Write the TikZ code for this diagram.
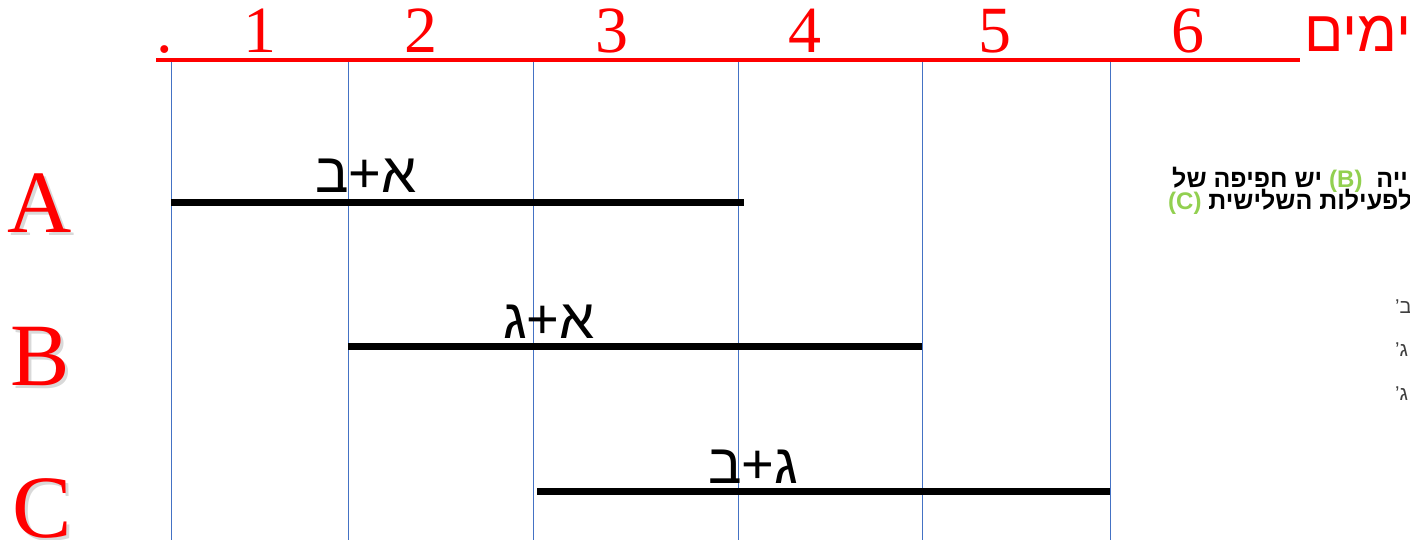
\documentclass[tikz,border=0pt]{standalone}
\usepackage{fontspec}
\setmainfont{Liberation Serif}
\newfontfamily\heb[Script=Hebrew]{Liberation Sans}
\TeXXeTstate=1
\newcommand{\hw}[1]{\beginR #1\endR}
\definecolor{gridblue}{HTML}{4472C4}
\definecolor{axisred}{HTML}{FF0000}
\definecolor{notegreen}{HTML}{92D050}
\definecolor{notegray}{HTML}{404040}
\begin{document}
\begin{tikzpicture}[x=1pt,y=-1pt,
  daynum/.style={text=axisred,font=\fontsize{66}{66}\selectfont,anchor=base,inner sep=0pt},
  daysword/.style={text=axisred,font=\heb\fontsize{58}{58}\selectfont,anchor=base west,inner sep=0pt},
  rowletter/.style={text=axisred,font=\fontsize{89}{89}\selectfont,anchor=base,inner sep=0pt},
  rowshadow/.style={text=black,opacity=0.15,font=\fontsize{89}{89}\selectfont,anchor=base,inner sep=0pt},
  pairlabel/.style={text=black,font=\heb\fontsize{56}{56}\selectfont,anchor=base,inner sep=0pt},
  gridline/.style={draw=gridblue,line width=1pt},
  axisline/.style={draw=axisred,line width=4pt},
  taskbar/.style={draw=black,line width=7pt},
  notetext/.style={text=black,font=\heb\bfseries\fontsize{25}{25}\selectfont,anchor=base west,inner sep=0pt},
  sidemark/.style={text=notegray,font=\heb\fontsize{20}{20}\selectfont,anchor=base west,inner sep=0pt}
]
\newcommand{\gl}[1]{{\color{notegreen}\fontsize{24}{24}\selectfont\bfseries #1}}
\useasboundingbox (0,0) rectangle (1410,540);
\fill[white] (0,0) rectangle (1410,540);

% vertical grid lines
\foreach \i/\x in {0/171,1/348,2/533,3/738,4/922,5/1110}{
  \coordinate (gt\i) at (\x,60);
  \coordinate (gb\i) at (\x,540);
  \draw[gridline] (gt\i) -- (gb\i);
}

% red axis
\coordinate (axL) at (156,60);
\coordinate (axR) at (1300,60);
\draw[axisline] (axL) -- (axR);

% day numbers
\node[daynum] (d0) at (165,53) {.};
\node[daynum] (d1) at (260,53) {1};
\node[daynum] (d2) at (421,53) {2};
\node[daynum] (d3) at (612,53) {3};
\node[daynum] (d4) at (805,53) {4};
\node[daynum] (d5) at (995,53) {5};
\node[daynum] (d6) at (1188,53) {6};
\node[daysword] (days) at (1304,52) {\hw{ימים}};

% row letters with soft shadow
\node[rowshadow] (sA) at (43,235) {A};
\node[rowletter] (rA) at (40,232) {A};
\node[rowshadow] (sB) at (43,388) {B};
\node[rowletter] (rB) at (40,385) {B};
\node[rowshadow] (sC) at (45,540) {C};
\node[rowletter] (rC) at (42,537) {C};

% task bars
\coordinate (aS) at (171,203);
\coordinate (aE) at (744,203);
\coordinate (bS) at (348,346);
\coordinate (bE) at (922,346);
\coordinate (cS) at (537,491);
\coordinate (cE) at (1110,491);
\draw[taskbar] (aS) -- (aE);
\draw[taskbar] (bS) -- (bE);
\draw[taskbar] (cS) -- (cE);

% bar labels
\node[pairlabel] (lA) at (366,193) {\hw{א+ב}};
\node[pairlabel] (lB) at (549,338) {\hw{א+ג}};
\node[pairlabel] (lC) at (753,483) {\hw{ג+ב}};

% note text (cut by the right edge), words in visual left-to-right order
\node[notetext] (n1) at (1172,188) {\hw{של} \hw{חפיפה} \hw{יש} \gl{(B)}\ \ \hw{ייה}};
\node[notetext] (n2) at (1168,210) {\gl{(C)} \hw{השלישית} \hw{לפעילות}};

% side marks (cut by the right edge)
\node[sidemark] (m1) at (1395,313) {\hw{ב’}};
\node[sidemark] (m2) at (1395,356) {\hw{ג’}};
\node[sidemark] (m3) at (1395,400) {\hw{ג’}};
\end{tikzpicture}
\end{document}
